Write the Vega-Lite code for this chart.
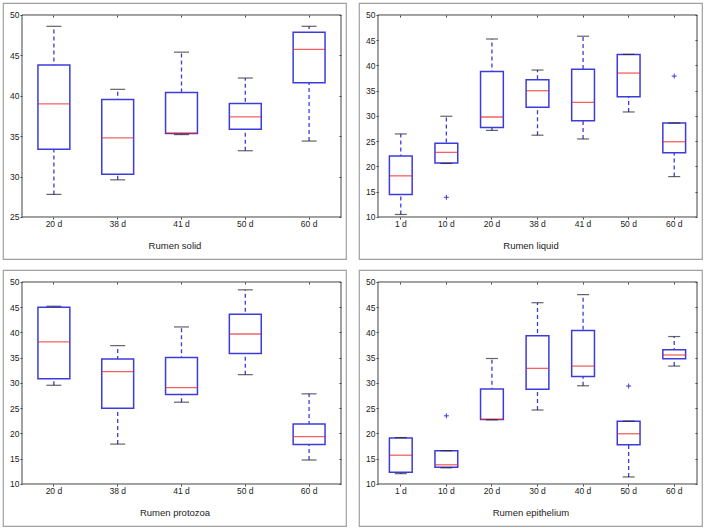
{
  "$schema": "https://vega.github.io/schema/vega-lite/v6.json",
  "background": "white",
  "padding": {"left": 2, "top": 2, "right": 2, "bottom": 2},
  "datasets": {
    "boxes": [
      {"panel": "Rumen solid", "day": "20 d", "lower": 27.8, "q1": 33.4, "median": 39.0, "q3": 43.8, "upper": 48.6},
      {"panel": "Rumen solid", "day": "38 d", "lower": 29.6, "q1": 30.3, "median": 34.8, "q3": 39.55, "upper": 40.8},
      {"panel": "Rumen solid", "day": "41 d", "lower": 35.2, "q1": 35.33, "median": 35.37, "q3": 40.4, "upper": 45.4},
      {"panel": "Rumen solid", "day": "50 d", "lower": 33.2, "q1": 35.85, "median": 37.4, "q3": 39.05, "upper": 42.2},
      {"panel": "Rumen solid", "day": "60 d", "lower": 34.4, "q1": 41.6, "median": 45.75, "q3": 47.85, "upper": 48.6},
      {"panel": "Rumen liquid", "day": "1 d", "lower": 10.5, "q1": 14.45, "median": 18.15, "q3": 22.1, "upper": 26.45},
      {"panel": "Rumen liquid", "day": "10 d", "lower": 20.6, "q1": 20.7, "median": 22.8, "q3": 24.6, "upper": 29.95},
      {"panel": "Rumen liquid", "day": "20 d", "lower": 27.15, "q1": 27.7, "median": 29.8, "q3": 38.8, "upper": 45.25},
      {"panel": "Rumen liquid", "day": "38 d", "lower": 26.2, "q1": 31.75, "median": 35.0, "q3": 37.2, "upper": 39.1},
      {"panel": "Rumen liquid", "day": "41 d", "lower": 25.45, "q1": 29.05, "median": 32.7, "q3": 39.25, "upper": 45.8},
      {"panel": "Rumen liquid", "day": "50 d", "lower": 30.8, "q1": 33.8, "median": 38.5, "q3": 42.2, "upper": 42.2},
      {"panel": "Rumen liquid", "day": "60 d", "lower": 18.0, "q1": 22.7, "median": 24.9, "q3": 28.6, "upper": 28.6},
      {"panel": "Rumen protozoa", "day": "20 d", "lower": 29.55, "q1": 30.85, "median": 38.15, "q3": 45.0, "upper": 45.2},
      {"panel": "Rumen protozoa", "day": "38 d", "lower": 17.9, "q1": 25.0, "median": 32.25, "q3": 34.75, "upper": 37.4},
      {"panel": "Rumen protozoa", "day": "41 d", "lower": 26.2, "q1": 27.7, "median": 29.1, "q3": 35.05, "upper": 41.1},
      {"panel": "Rumen protozoa", "day": "50 d", "lower": 31.65, "q1": 35.85, "median": 39.7, "q3": 43.6, "upper": 48.45},
      {"panel": "Rumen protozoa", "day": "60 d", "lower": 14.75, "q1": 17.8, "median": 19.4, "q3": 21.9, "upper": 27.85},
      {"panel": "Rumen epithelium", "day": "1 d", "lower": 12.05, "q1": 12.35, "median": 15.7, "q3": 19.1, "upper": 19.2},
      {"panel": "Rumen epithelium", "day": "10 d", "lower": 13.2, "q1": 13.3, "median": 13.8, "q3": 16.6, "upper": 16.6},
      {"panel": "Rumen epithelium", "day": "20 d", "lower": 22.7, "q1": 22.75, "median": 22.8, "q3": 28.8, "upper": 34.85},
      {"panel": "Rumen epithelium", "day": "30 d", "lower": 24.65, "q1": 28.75, "median": 32.9, "q3": 39.35, "upper": 45.9},
      {"panel": "Rumen epithelium", "day": "40 d", "lower": 29.45, "q1": 31.3, "median": 33.35, "q3": 40.4, "upper": 47.5},
      {"panel": "Rumen epithelium", "day": "50 d", "lower": 11.4, "q1": 17.75, "median": 19.95, "q3": 22.45, "upper": 22.45},
      {"panel": "Rumen epithelium", "day": "60 d", "lower": 33.35, "q1": 34.8, "median": 35.55, "q3": 36.6, "upper": 39.2}
    ],
    "outliers": [
      {"panel": "Rumen liquid", "day": "10 d", "value": 13.9},
      {"panel": "Rumen liquid", "day": "60 d", "value": 37.9},
      {"panel": "Rumen epithelium", "day": "10 d", "value": 23.5},
      {"panel": "Rumen epithelium", "day": "50 d", "value": 29.4}
    ]
  },
  "columns": 2,
  "spacing": {"row": 11, "column": 13},
  "bounds": "flush",
  "concat": [
    {
      "width": 343, "height": 256,
      "resolve": {"axis": {"x": "independent", "y": "independent"}},
      "layer": [
        {
          "data": {"name": "boxes"},
          "transform": [{"filter": "datum.panel === 'Rumen solid'"}],
          "mark": {"type": "rule", "stroke": "#3c3cdc", "strokeWidth": 1.3, "strokeDash": [4, 3]},
          "encoding": {
            "x": {"field": "day", "type": "nominal", "scale": {"domain": ["20 d", "38 d", "41 d", "50 d", "60 d"], "paddingInner": 0, "paddingOuter": 0.188, "align": 0.7917},
                  "axis": {"orient": "bottom", "offset": -42, "title": "Rumen solid", "labelAngle": 0, "domain": false, "tickSize": 2, "labelPadding": 0, "titlePadding": 13}},
            "y": {"field": "lower", "type": "quantitative", "scale": {"domain": [19.802, 51.485], "nice": false, "zero": false},
                  "axis": {"orient": "left", "offset": -19, "values": [25, 30, 35, 40, 45, 50], "domain": false, "title": null, "tickSize": 2, "labelPadding": 1}},
            "y2": {"field": "upper"}
          }
        },
        {
          "data": {"name": "boxes"},
          "transform": [{"filter": "datum.panel === 'Rumen solid'"}],
          "mark": {"type": "bar", "width": {"band": 0.5}, "fill": "white", "stroke": "#3c3cdc", "strokeWidth": 1.5},
          "encoding": {
            "x": {"field": "day", "type": "nominal", "axis": {"orient": "top", "offset": -12, "labels": false, "domain": false, "tickSize": -2, "title": null}},
            "y": {"field": "q1", "type": "quantitative", "axis": {"orient": "right", "offset": -5, "labels": false, "domain": false, "tickSize": -2, "title": null, "values": [25, 30, 35, 40, 45, 50]}},
            "y2": {"field": "q3"}
          }
        },
        {
          "data": {"name": "boxes"},
          "transform": [{"filter": "datum.panel === 'Rumen solid'"}],
          "mark": {"type": "tick", "color": "#ee2020", "size": 32, "thickness": 1.3},
          "encoding": {
            "x": {"field": "day", "type": "nominal", "axis": null},
            "y": {"field": "median", "type": "quantitative", "axis": null}
          }
        },
        {
          "data": {"name": "boxes"},
          "transform": [{"filter": "datum.panel === 'Rumen solid'"}, {"fold": ["lower", "upper"]}],
          "mark": {"type": "tick", "color": "#222222", "size": 15, "thickness": 1.2},
          "encoding": {
            "x": {"field": "day", "type": "nominal", "axis": null},
            "y": {"field": "value", "type": "quantitative", "axis": null}
          }
        },
        {
          "data": {"values": [{}]},
          "mark": {"type": "rect", "fillOpacity": 0, "stroke": "#444444", "strokeWidth": 1},
          "encoding": {
            "x": {"datum": "20 d", "bandPosition": 0, "axis": null},
            "x2": {"datum": "60 d", "bandPosition": 1},
            "y": {"datum": 25, "type": "quantitative", "axis": null},
            "y2": {"datum": 50}
          }
        }
      ]
    },
    {
      "width": 343, "height": 256,
      "resolve": {"axis": {"x": "independent", "y": "independent"}},
      "layer": [
        {
          "data": {"name": "boxes"},
          "transform": [{"filter": "datum.panel === 'Rumen liquid'"}],
          "mark": {"type": "rule", "stroke": "#3c3cdc", "strokeWidth": 1.3, "strokeDash": [4, 3]},
          "encoding": {
            "x": {"field": "day", "type": "nominal", "scale": {"domain": ["1 d", "10 d", "20 d", "38 d", "41 d", "50 d", "60 d"], "paddingInner": 0, "paddingOuter": 0.2633, "align": 0.7917},
                  "axis": {"orient": "bottom", "offset": -42, "title": "Rumen liquid", "labelAngle": 0, "domain": false, "tickSize": 2, "labelPadding": 0, "titlePadding": 13}},
            "y": {"field": "lower", "type": "quantitative", "scale": {"domain": [1.683, 52.376], "nice": false, "zero": false},
                  "axis": {"orient": "left", "offset": -19, "values": [10, 15, 20, 25, 30, 35, 40, 45, 50], "domain": false, "title": null, "tickSize": 2, "labelPadding": 1}},
            "y2": {"field": "upper"}
          }
        },
        {
          "data": {"name": "boxes"},
          "transform": [{"filter": "datum.panel === 'Rumen liquid'"}],
          "mark": {"type": "bar", "width": {"band": 0.5}, "fill": "white", "stroke": "#3c3cdc", "strokeWidth": 1.5},
          "encoding": {
            "x": {"field": "day", "type": "nominal", "axis": {"orient": "top", "offset": -12, "labels": false, "domain": false, "tickSize": -2, "title": null}},
            "y": {"field": "q1", "type": "quantitative", "axis": {"orient": "right", "offset": -5, "labels": false, "domain": false, "tickSize": -2, "title": null, "values": [10, 15, 20, 25, 30, 35, 40, 45, 50]}},
            "y2": {"field": "q3"}
          }
        },
        {
          "data": {"name": "boxes"},
          "transform": [{"filter": "datum.panel === 'Rumen liquid'"}],
          "mark": {"type": "tick", "color": "#ee2020", "size": 22.8, "thickness": 1.3},
          "encoding": {
            "x": {"field": "day", "type": "nominal", "axis": null},
            "y": {"field": "median", "type": "quantitative", "axis": null}
          }
        },
        {
          "data": {"name": "boxes"},
          "transform": [{"filter": "datum.panel === 'Rumen liquid'"}, {"fold": ["lower", "upper"]}],
          "mark": {"type": "tick", "color": "#222222", "size": 12, "thickness": 1.2},
          "encoding": {
            "x": {"field": "day", "type": "nominal", "axis": null},
            "y": {"field": "value", "type": "quantitative", "axis": null}
          }
        },
        {
          "data": {"name": "outliers"},
          "transform": [{"filter": "datum.panel === 'Rumen liquid'"}],
          "mark": {"type": "point", "shape": "M-1,0H1M0,-1V1", "filled": false, "stroke": "#3c3cdc", "strokeWidth": 1, "size": 25, "opacity": 1},
          "encoding": {
            "x": {"field": "day", "type": "nominal", "axis": null},
            "y": {"field": "value", "type": "quantitative", "axis": null}
          }
        },
        {
          "data": {"values": [{}]},
          "mark": {"type": "rect", "fillOpacity": 0, "stroke": "#444444", "strokeWidth": 1},
          "encoding": {
            "x": {"datum": "1 d", "bandPosition": 0, "axis": null},
            "x2": {"datum": "60 d", "bandPosition": 1},
            "y": {"datum": 10, "type": "quantitative", "axis": null},
            "y2": {"datum": 50}
          }
        }
      ]
    },
    {
      "width": 343, "height": 256,
      "resolve": {"axis": {"x": "independent", "y": "independent"}},
      "layer": [
        {
          "data": {"name": "boxes"},
          "transform": [{"filter": "datum.panel === 'Rumen protozoa'"}],
          "mark": {"type": "rule", "stroke": "#3c3cdc", "strokeWidth": 1.3, "strokeDash": [4, 3]},
          "encoding": {
            "x": {"field": "day", "type": "nominal", "scale": {"domain": ["20 d", "38 d", "41 d", "50 d", "60 d"], "paddingInner": 0, "paddingOuter": 0.188, "align": 0.7917},
                  "axis": {"orient": "bottom", "offset": -42, "title": "Rumen protozoa", "labelAngle": 0, "domain": false, "tickSize": 2, "labelPadding": 0, "titlePadding": 13}},
            "y": {"field": "lower", "type": "quantitative", "scale": {"domain": [1.683, 52.376], "nice": false, "zero": false},
                  "axis": {"orient": "left", "offset": -19, "values": [10, 15, 20, 25, 30, 35, 40, 45, 50], "domain": false, "title": null, "tickSize": 2, "labelPadding": 1}},
            "y2": {"field": "upper"}
          }
        },
        {
          "data": {"name": "boxes"},
          "transform": [{"filter": "datum.panel === 'Rumen protozoa'"}],
          "mark": {"type": "bar", "width": {"band": 0.5}, "fill": "white", "stroke": "#3c3cdc", "strokeWidth": 1.5},
          "encoding": {
            "x": {"field": "day", "type": "nominal", "axis": {"orient": "top", "offset": -12, "labels": false, "domain": false, "tickSize": -2, "title": null}},
            "y": {"field": "q1", "type": "quantitative", "axis": {"orient": "right", "offset": -5, "labels": false, "domain": false, "tickSize": -2, "title": null, "values": [10, 15, 20, 25, 30, 35, 40, 45, 50]}},
            "y2": {"field": "q3"}
          }
        },
        {
          "data": {"name": "boxes"},
          "transform": [{"filter": "datum.panel === 'Rumen protozoa'"}],
          "mark": {"type": "tick", "color": "#ee2020", "size": 32, "thickness": 1.3},
          "encoding": {
            "x": {"field": "day", "type": "nominal", "axis": null},
            "y": {"field": "median", "type": "quantitative", "axis": null}
          }
        },
        {
          "data": {"name": "boxes"},
          "transform": [{"filter": "datum.panel === 'Rumen protozoa'"}, {"fold": ["lower", "upper"]}],
          "mark": {"type": "tick", "color": "#222222", "size": 15, "thickness": 1.2},
          "encoding": {
            "x": {"field": "day", "type": "nominal", "axis": null},
            "y": {"field": "value", "type": "quantitative", "axis": null}
          }
        },
        {
          "data": {"values": [{}]},
          "mark": {"type": "rect", "fillOpacity": 0, "stroke": "#444444", "strokeWidth": 1},
          "encoding": {
            "x": {"datum": "20 d", "bandPosition": 0, "axis": null},
            "x2": {"datum": "60 d", "bandPosition": 1},
            "y": {"datum": 10, "type": "quantitative", "axis": null},
            "y2": {"datum": 50}
          }
        }
      ]
    },
    {
      "width": 343, "height": 256,
      "resolve": {"axis": {"x": "independent", "y": "independent"}},
      "layer": [
        {
          "data": {"name": "boxes"},
          "transform": [{"filter": "datum.panel === 'Rumen epithelium'"}],
          "mark": {"type": "rule", "stroke": "#3c3cdc", "strokeWidth": 1.3, "strokeDash": [4, 3]},
          "encoding": {
            "x": {"field": "day", "type": "nominal", "scale": {"domain": ["1 d", "10 d", "20 d", "30 d", "40 d", "50 d", "60 d"], "paddingInner": 0, "paddingOuter": 0.2633, "align": 0.7917},
                  "axis": {"orient": "bottom", "offset": -42, "title": "Rumen epithelium", "labelAngle": 0, "domain": false, "tickSize": 2, "labelPadding": 0, "titlePadding": 13}},
            "y": {"field": "lower", "type": "quantitative", "scale": {"domain": [1.683, 52.376], "nice": false, "zero": false},
                  "axis": {"orient": "left", "offset": -19, "values": [10, 15, 20, 25, 30, 35, 40, 45, 50], "domain": false, "title": null, "tickSize": 2, "labelPadding": 1}},
            "y2": {"field": "upper"}
          }
        },
        {
          "data": {"name": "boxes"},
          "transform": [{"filter": "datum.panel === 'Rumen epithelium'"}],
          "mark": {"type": "bar", "width": {"band": 0.5}, "fill": "white", "stroke": "#3c3cdc", "strokeWidth": 1.5},
          "encoding": {
            "x": {"field": "day", "type": "nominal", "axis": {"orient": "top", "offset": -12, "labels": false, "domain": false, "tickSize": -2, "title": null}},
            "y": {"field": "q1", "type": "quantitative", "axis": {"orient": "right", "offset": -5, "labels": false, "domain": false, "tickSize": -2, "title": null, "values": [10, 15, 20, 25, 30, 35, 40, 45, 50]}},
            "y2": {"field": "q3"}
          }
        },
        {
          "data": {"name": "boxes"},
          "transform": [{"filter": "datum.panel === 'Rumen epithelium'"}],
          "mark": {"type": "tick", "color": "#ee2020", "size": 22.8, "thickness": 1.3},
          "encoding": {
            "x": {"field": "day", "type": "nominal", "axis": null},
            "y": {"field": "median", "type": "quantitative", "axis": null}
          }
        },
        {
          "data": {"name": "boxes"},
          "transform": [{"filter": "datum.panel === 'Rumen epithelium'"}, {"fold": ["lower", "upper"]}],
          "mark": {"type": "tick", "color": "#222222", "size": 12, "thickness": 1.2},
          "encoding": {
            "x": {"field": "day", "type": "nominal", "axis": null},
            "y": {"field": "value", "type": "quantitative", "axis": null}
          }
        },
        {
          "data": {"name": "outliers"},
          "transform": [{"filter": "datum.panel === 'Rumen epithelium'"}],
          "mark": {"type": "point", "shape": "M-1,0H1M0,-1V1", "filled": false, "stroke": "#3c3cdc", "strokeWidth": 1, "size": 25, "opacity": 1},
          "encoding": {
            "x": {"field": "day", "type": "nominal", "axis": null},
            "y": {"field": "value", "type": "quantitative", "axis": null}
          }
        },
        {
          "data": {"values": [{}]},
          "mark": {"type": "rect", "fillOpacity": 0, "stroke": "#444444", "strokeWidth": 1},
          "encoding": {
            "x": {"datum": "1 d", "bandPosition": 0, "axis": null},
            "x2": {"datum": "60 d", "bandPosition": 1},
            "y": {"datum": 10, "type": "quantitative", "axis": null},
            "y2": {"datum": 50}
          }
        }
      ]
    }
  ],
  "config": {
    "font": "Liberation Sans",
    "view": {"stroke": "#a0a0a0", "strokeWidth": 1.2},
    "axis": {"labelFont": "Liberation Sans", "labelFontSize": 8.5, "labelColor": "#222222", "tickColor": "#444444", "titleFont": "Liberation Sans", "titleFontSize": 9.5, "titleFontWeight": "normal", "titleColor": "#222222", "grid": false}
  }
}
